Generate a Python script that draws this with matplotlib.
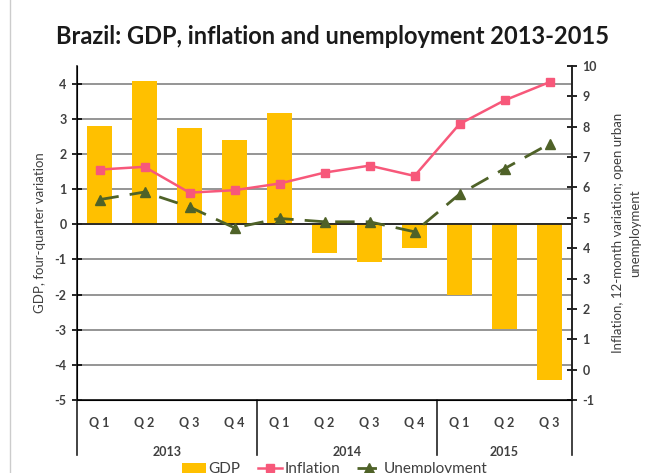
import numpy as np
import matplotlib.pyplot as plt
import matplotlib.transforms as mtransforms

# Data
quarters = ['Q 1', 'Q 2', 'Q 3', 'Q 4', 'Q 1', 'Q 2', 'Q 3', 'Q 4', 'Q 1', 'Q 2', 'Q 3']
years = ['2013', '2014', '2015']
gdp = [2.78, 4.07, 2.74, 2.39, 3.15, -0.82, -1.08, -0.68, -2.0, -2.98, -4.43]
inflation = [6.59, 6.68, 5.83, 5.91, 6.13, 6.49, 6.72, 6.38, 8.09, 8.87, 9.47]
unemployment = [5.60, 5.85, 5.36, 4.67, 4.98, 4.87, 4.87, 4.54, 5.78, 6.62, 7.44]

plt.rcParams['font.family'] = ['Lato', 'DejaVu Sans']
plt.rcParams['axes.unicode_minus'] = False
txt = '#404040'

fig = plt.figure(figsize=(6.46, 4.73), dpi=100)
ax = fig.add_axes([0.1192, 0.1543, 0.7663, 0.7061])
x = np.arange(len(quarters))

ax.bar(x, gdp, width=0.56, color='#FFC000', label='GDP', zorder=2)
ax.axhline(0, color='#222222', lw=1.3, zorder=3)
ax.set_xlim(-0.5, len(quarters) - 0.5)
ax.set_ylim(-5, 4.5)
ax.set_yticks(range(-5, 5))
ax.yaxis.grid(True, color='#8c8c8c', lw=1.3)
ax.set_axisbelow(True)
ax.set_xticks(x)
ax.set_xticklabels(quarters, fontsize=9, fontweight='bold', color=txt)
ax.tick_params(axis='x', length=0, pad=12)
ax.tick_params(axis='y', direction='inout', length=7, width=1.2, labelsize=9,
               labelcolor=txt, pad=4)
for lab in ax.get_yticklabels():
    lab.set_fontweight('bold')
ax.set_ylabel('GDP, four-quarter variation', fontsize=9.5, color=txt, labelpad=6)
ax.spines['top'].set_visible(False)
for s in ['left', 'bottom', 'right']:
    ax.spines[s].set_color('#222222')
    ax.spines[s].set_linewidth(1.2)

# year group separators and labels
trans = mtransforms.blended_transform_factory(ax.transData, ax.transAxes)
for b in [-0.5, 3.5, 7.5, 10.5]:
    ax.plot([b, b], [0, -0.165], transform=trans, color='#222222', lw=1.2, clip_on=False)
for lbl, c in zip(years, [1.5, 5.5, 9.0]):
    ax.text(c, -0.155, lbl, transform=trans, ha='center', va='center',
            fontsize=9, fontweight='bold', color=txt)

ax2 = ax.twinx()
ax2.set_ylim(-1, 10)
ax2.set_yticks(range(-1, 11))
ax2.plot(x, inflation, color='#F7587A', lw=1.8, marker='s', markersize=6, label='Inflation')
ax2.plot(x, unemployment, color='#4F6228', lw=2, dashes=(7, 4), marker='^', markersize=7,
         label='Unemployment')
ax2.tick_params(axis='y', direction='inout', length=7, width=1.2, labelsize=9,
                labelcolor=txt, pad=4)
for lab in ax2.get_yticklabels():
    lab.set_fontweight('bold')
ax2.set_ylabel('Inflation, 12-month variation; open urban\nunemployment', fontsize=9.5,
               color=txt, labelpad=11, rotation=90, linespacing=1.5)
ax2.spines['top'].set_visible(False)
ax2.spines['right'].set_color('#222222')
ax2.spines['right'].set_linewidth(1.2)

fig.suptitle('Brazil: GDP, inflation and unemployment 2013-2015', x=0.515, y=0.948,
             fontsize=17, fontweight='bold', color='#1a1a1a')

h1, l1 = ax.get_legend_handles_labels()
h2, l2 = ax2.get_legend_handles_labels()
fig.legend(h1 + h2, l1 + l2, loc='center', bbox_to_anchor=(0.518, 0.008), ncol=3,
           frameon=False, fontsize=11, handlelength=1.6, columnspacing=1.1,
           handletextpad=0.15, labelcolor=txt)

# page edge line on the left
fig.add_artist(plt.Line2D([0.016, 0.016], [0, 1], color='#cccccc', lw=1))

fig.savefig('out.png', dpi=100)
